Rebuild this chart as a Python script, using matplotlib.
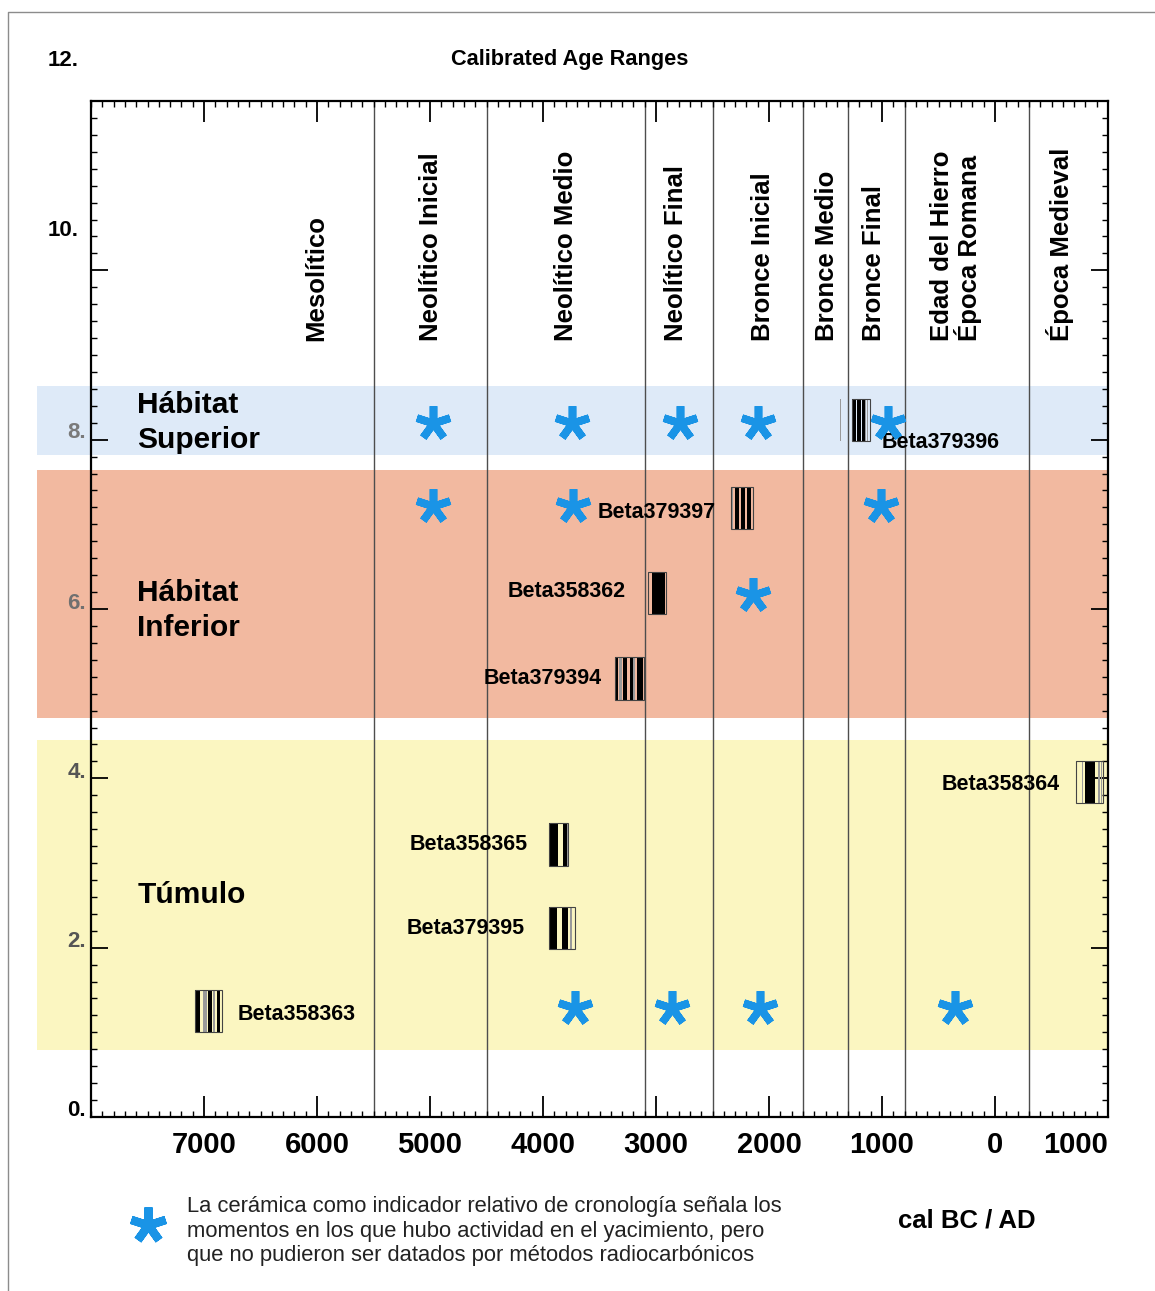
import matplotlib
matplotlib.use("Agg")
import matplotlib.pyplot as plt
import matplotlib.transforms as mtransforms
from matplotlib.lines import Line2D
from matplotlib.patches import Rectangle
from matplotlib.ticker import MultipleLocator

# --- datos (años cal BC negativos) ---
period_names = ["Mesolítico", "Neolítico Inicial", "Neolítico Medio", "Neolítico Final",
                "Bronce Inicial", "Bronce Medio", "Bronce Final",
                "Edad del Hierro\nÉpoca Romana", "Época Medieval"]
period_centers = [-6010, -4990, -3800, -2825, -2055, -1490, -1070, -345, 575]
period_bounds = [-5500, -4500, -3100, -2500, -1700, -1300, -800, 300]

band_names = ["Hábitat\nSuperior", "Hábitat\nInferior", "Túmulo"]
band_ranges = [(7.82, 8.63), (4.71, 7.64), (0.79, 4.45)]
band_label_y = [8.2, 5.98, 2.62]
band_colors = ["#deeaf8", "#f2b9a0", "#fbf6c1"]

samples = ["Beta379396", "Beta379397", "Beta358362", "Beta379394",
           "Beta358364", "Beta358365", "Beta379395", "Beta358363"]
sample_y = [8.23, 7.19, 6.19, 5.18, 3.96, 3.22, 2.23, 1.25]
# rango total de cada datación
outline_ranges = [(-1265, -1106), (-2339, -2139), (-3071, -2912), (-3363, -3104),
                  (717, 956), (-3947, -3776), (-3947, -3717), (-7080, -6843)]
# rangos de alta probabilidad (negro) y baja probabilidad (gris)
black_ranges = [
    [(-1265, -1227), (-1218, -1183), (-1174, -1153)],
    [(-2301, -2268), (-2248, -2212), (-2192, -2162)],
    [(-3035, -2920)],
    [(-3363, -3334), (-3289, -3259), (-3230, -3201), (-3171, -3112)],
    [(796, 885)],
    [(-3947, -3865), (-3820, -3790)],
    [(-3944, -3879), (-3830, -3776)],
    [(-7080, -7035), (-6962, -6932), (-6888, -6860)],
]
gray_ranges = [
    [(-1370, -1362), (-1150, -1140), (-1130, -1122)],
    [(-2339, -2321)],
    [(-3071, -3062)],
    [(-3330, -3305), (-3201, -3186)],
    [(717, 730), (767, 775), (915, 925), (940, 948)],
    [(-3785, -3779)],
    [(-3761, -3746)],
    [(-7006, -6976), (-6917, -6903)],
]

ceramic_x = [-4970, -3740, -2790, -2100, -950, -4970, -3735, -1010, -2140,
             -3720, -2860, -2080, -350]
ceramic_y = [8.2, 8.2, 8.2, 8.2, 8.2, 7.22, 7.22, 7.22, 6.16,
             1.29, 1.29, 1.29, 1.29]

xtick_vals = [-7000, -6000, -5000, -4000, -3000, -2000, -1000, 0, 1000]
xtick_labels = ["7000", "6000", "5000", "4000", "3000", "2000", "1000", "0", "1000"]
ytick_vals = [0, 2, 4, 6, 8, 10, 12]
ytick_labels = ["0.", "2.", "4.", "6.", "8.", "10.", "12."]

legend_text = ("La cerámica como indicador relativo de cronología señala los\n"
               "momentos en los que hubo actividad en el yacimiento, pero\n"
               "que no pudieron ser datados por métodos radiocarbónicos")

SANS = ["Liberation Sans", "DejaVu Sans"]
BLUE = "#1a94e6"

W, H = 1155, 1291
fig = plt.figure(figsize=(W / 100, H / 100), dpi=100)
ax = fig.add_axes([91 / W, 1 - 1117 / H, (1108 - 91) / W, (1117 - 101) / H])
ax.set_xlim(-8000, 1000)
ax.set_ylim(0, 12)

# marco fino de la figura
fig.add_artist(Line2D([8 / W, 8 / W, 1.0], [0.0, 1 - 12 / H, 1 - 12 / H],
                      transform=fig.transFigure, color="#8c8c8c", lw=1.0))

# bandas de fondo (se salen del eje por la izquierda)
trans = mtransforms.blended_transform_factory(fig.transFigure, ax.transData)
for (y0, y1), c in zip(band_ranges, band_colors):
    ax.add_patch(Rectangle((37 / W, y0), (1108 - 37) / W, y1 - y0, transform=trans,
                           facecolor=c, edgecolor="none", zorder=0.5, clip_on=False))
for name, y in zip(band_names, band_label_y):
    ax.text(-7590, y, name, ha="left", va="center", fontsize=21.5, fontweight="bold",
            family=SANS, linespacing=1.3, zorder=4)

# periodos
for b in period_bounds:
    ax.axvline(b, color="#4d4d4d", lw=1.0, zorder=1)
for name, xc in zip(period_names, period_centers):
    ax.text(xc, 9.17, name, rotation=90, ha="center", va="bottom", multialignment="left",
            fontsize=18.5, fontweight="bold", family=SANS, linespacing=1.0, zorder=4)

# dataciones
label_offsets = [(12, -22), (-15, -4), (-22, 1), (-13, 0), (-16, -3), (-21, 0), (-24, 0), (16, -3)]
for i, name in enumerate(samples):
    y = sample_y[i]
    lo, hi = outline_ranges[i]
    ax.broken_barh([(a, b - a) for a, b in gray_ranges[i]], (y - 0.25, 0.5),
                   facecolors="#9a9a9a", edgecolor="none", zorder=3)
    ax.broken_barh([(a, b - a) for a, b in black_ranges[i]], (y - 0.25, 0.5),
                   facecolors="black", edgecolor="none", zorder=3)
    ax.add_patch(Rectangle((lo, y - 0.25), hi - lo, 0.5, facecolor="none",
                           edgecolor="#444444", lw=0.8, zorder=3))
    dx, dy = label_offsets[i]
    anchor = hi if dx > 0 else lo
    ax.annotate(name, xy=(anchor, y), xytext=(dx, dy), textcoords="offset pixels",
                ha="left" if dx > 0 else "right", va="center", fontsize=15.5,
                fontweight="bold", family=SANS, zorder=4)

# cerámica
ax.plot(ceramic_x, ceramic_y, linestyle="none", marker=(5, 2, 0), markersize=25,
        markeredgewidth=5.5, color=BLUE, zorder=5)

# ejes
ax.set_xticks(xtick_vals)
ax.set_xticklabels(xtick_labels, fontsize=21, fontweight="bold", family=SANS)
ax.get_xticklabels()[-1].set_horizontalalignment("right")
ax.xaxis.set_minor_locator(MultipleLocator(100))
ax.set_yticks(ytick_vals)
ax.set_yticklabels([])
ax.yaxis.set_minor_locator(MultipleLocator(0.2))
ax.tick_params(axis="x", which="major", direction="in", length=15, width=1.3, top=True, pad=10)
ax.tick_params(axis="y", which="major", direction="in", length=12, width=1.3, right=True)
ax.tick_params(which="minor", direction="in", length=4, width=1.0, top=True, right=True)
for s in ax.spines.values():
    s.set_linewidth(1.6)

ylab_colors = ["black", "#555555", "#555555", "#707070", "#7a7a7a", "black", "black"]
ylab_dx = [-5, -5, -5, -5, -5, -12, -12]
ylab_dy = [7, 6, 6, 6, 7, 40, 41]
for v, lab, c, dx, dy in zip(ytick_vals, ytick_labels, ylab_colors, ylab_dx, ylab_dy):
    ax.annotate(lab, xy=(0, v), xycoords=("axes fraction", "data"), xytext=(dx, dy),
                textcoords="offset pixels", ha="right", va="center", fontsize=16,
                fontweight="bold", family=SANS, color=c, annotation_clip=False)

fig.text(570 / W, 1 - 60 / H, "Calibrated Age Ranges", ha="center", va="center",
         fontsize=15.7, fontweight="bold", family=SANS)

# leyenda
fig.add_artist(Line2D([148 / W], [1 - 1225 / H], transform=fig.transFigure, marker=(5, 2, 0),
                      markersize=26, markeredgewidth=6, color=BLUE, linestyle="none"))
fig.text(187 / W, 1 - 1231 / H, legend_text, ha="left", va="center", fontsize=15.8,
         family=SANS, color="#222222", linespacing=1.2)
fig.text(967 / W, 1 - 1220 / H, "cal BC / AD", ha="center", va="center", fontsize=18.5,
         fontweight="bold", family=SANS)

fig.savefig("out.png", dpi=100)
